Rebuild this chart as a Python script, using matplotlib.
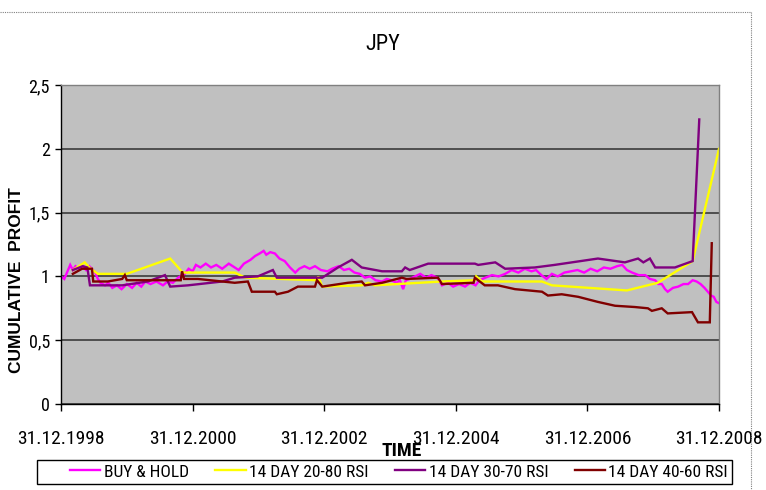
import matplotlib
matplotlib.use("Agg")
import matplotlib.pyplot as plt
import matplotlib.font_manager as fm
from matplotlib.font_manager import FontProperties
from matplotlib.lines import Line2D
from matplotlib.patches import Rectangle

# ---- data: decimal years and cumulative profit ----
bh_t = [1999.00, 1999.05, 1999.10, 1999.14, 1999.18, 1999.22, 1999.27, 1999.32, 1999.38, 1999.43,
        1999.47, 1999.52, 1999.56, 1999.60, 1999.67, 1999.72, 1999.78, 1999.85, 1999.92, 2000.00,
        2000.08, 2000.15, 2000.22, 2000.28, 2000.36, 2000.45, 2000.55, 2000.62, 2000.70, 2000.78,
        2000.88, 2000.94, 2001.00, 2001.05, 2001.12, 2001.20, 2001.28, 2001.36, 2001.45, 2001.55,
        2001.64, 2001.70, 2001.78, 2001.88, 2001.95, 2002.02, 2002.08, 2002.12, 2002.18, 2002.25,
        2002.32, 2002.40, 2002.48, 2002.56, 2002.62, 2002.70, 2002.78, 2002.86, 2002.95, 2003.05,
        2003.12, 2003.22, 2003.30, 2003.38, 2003.46, 2003.54, 2003.62, 2003.70, 2003.78, 2003.88,
        2003.95, 2004.02, 2004.10, 2004.15, 2004.20, 2004.24, 2004.30, 2004.38, 2004.46, 2004.55,
        2004.63, 2004.72, 2004.79, 2004.88, 2004.96, 2005.05, 2005.14, 2005.22, 2005.30, 2005.36,
        2005.45, 2005.55, 2005.65, 2005.75, 2005.85, 2005.95, 2006.05, 2006.15, 2006.22, 2006.30,
        2006.38, 2006.46, 2006.55, 2006.65, 2006.75, 2006.85, 2006.95, 2007.05, 2007.15, 2007.25,
        2007.35, 2007.45, 2007.53, 2007.60, 2007.68, 2007.78, 2007.88, 2007.95, 2008.03, 2008.08,
        2008.13, 2008.18, 2008.22, 2008.30, 2008.38, 2008.46, 2008.53, 2008.60, 2008.66, 2008.72,
        2008.78, 2008.83, 2008.88, 2008.92, 2008.96, 2009.00]
bh_v = [1.00, 0.98, 1.04, 1.09, 1.05, 1.08, 1.06, 1.09, 1.05, 1.08,
        1.06, 1.03, 0.98, 0.95, 0.93, 0.95, 0.91, 0.93, 0.90, 0.94,
        0.91, 0.95, 0.92, 0.96, 0.94, 0.96, 0.93, 0.96, 0.95, 0.99,
        1.02, 1.06, 1.04, 1.09, 1.07, 1.10, 1.07, 1.09, 1.06, 1.10,
        1.07, 1.05, 1.10, 1.13, 1.16, 1.18, 1.20, 1.17, 1.19, 1.18,
        1.14, 1.12, 1.07, 1.03, 1.06, 1.08, 1.06, 1.08, 1.05, 1.04,
        1.06, 1.08, 1.05, 1.06, 1.03, 1.02, 0.99, 1.00, 0.97, 0.96,
        0.98, 0.97, 0.95, 0.97, 0.90, 0.97, 0.98, 1.00, 1.02, 0.99,
        1.01, 0.99, 0.93, 0.95, 0.92, 0.94, 0.92, 0.95, 0.93, 0.97,
        0.99, 1.01, 1.00, 1.02, 1.05, 1.03, 1.06, 1.04, 1.05, 1.01,
        0.98, 1.02, 1.00, 1.03, 1.04, 1.05, 1.03, 1.06, 1.04, 1.07,
        1.06, 1.08, 1.09, 1.05, 1.03, 1.01, 1.01, 0.98, 0.97, 0.94,
        0.94, 0.90, 0.88, 0.91, 0.92, 0.94, 0.94, 0.97, 0.96, 0.94,
        0.91, 0.88, 0.85, 0.84, 0.80, 0.79]

rsi2080_t = [1999.18, 1999.36, 1999.43, 1999.56, 2000.00, 2000.66, 2000.85, 2001.64, 2001.80,
             2002.89, 2002.91, 2002.97, 2003.57, 2003.67, 2003.77, 2004.79, 2005.29, 2005.31,
             2005.40, 2006.31, 2006.46, 2007.60, 2008.07, 2008.60, 2009.00]
rsi2080_v = [1.05, 1.11, 1.07, 1.02, 1.02, 1.14, 1.03, 1.03, 0.99,
             0.97, 1.00, 0.92, 0.93, 0.95, 0.93, 0.96, 0.97, 1.00,
             0.96, 0.96, 0.93, 0.89, 0.95, 1.12, 2.00]

rsi3070_t = [1999.18, 1999.33, 1999.40, 1999.44, 1999.93, 2000.32, 2000.58, 2000.66, 2000.93,
             2001.45, 2001.64, 2001.99, 2002.22, 2002.28, 2002.97, 2003.21, 2003.42, 2003.57,
             2003.88, 2004.18, 2004.23, 2004.30, 2004.58, 2005.29, 2005.34, 2005.60, 2005.75,
             2006.20, 2006.50, 2007.16, 2007.57, 2007.77, 2007.85, 2007.95, 2008.03, 2008.33,
             2008.60, 2008.70]
rsi3070_v = [1.05, 1.08, 1.07, 0.93, 0.93, 0.96, 1.01, 0.92, 0.93,
             0.96, 0.99, 1.00, 1.05, 0.99, 0.99, 1.07, 1.13, 1.07,
             1.04, 1.04, 1.07, 1.05, 1.10, 1.10, 1.09, 1.11, 1.06,
             1.07, 1.09, 1.14, 1.11, 1.14, 1.11, 1.14, 1.07, 1.07,
             1.12, 2.23]

rsi4060_t = [1999.18, 1999.32, 1999.47, 1999.49, 1999.71, 1999.93, 1999.97, 2000.00, 2000.43,
             2000.82, 2000.84, 2000.87, 2001.08, 2001.45, 2001.64, 2001.84, 2001.90, 2002.25,
             2002.28, 2002.45, 2002.60, 2002.86, 2002.89, 2002.97, 2003.36, 2003.57, 2003.62,
             2003.88, 2004.18, 2004.25, 2004.73, 2004.79, 2005.27, 2005.29, 2005.44, 2005.64,
             2005.90, 2006.31, 2006.40, 2006.61, 2006.86, 2007.16, 2007.42, 2007.72, 2007.92,
             2007.98, 2008.13, 2008.22, 2008.59, 2008.68, 2008.86, 2008.89]
rsi4060_v = [1.02, 1.06, 1.06, 0.96, 0.96, 0.98, 1.01, 0.97, 0.97,
             0.97, 1.04, 0.98, 0.98, 0.96, 0.95, 0.96, 0.88, 0.88,
             0.86, 0.88, 0.92, 0.92, 0.97, 0.92, 0.95, 0.96, 0.93,
             0.95, 0.99, 0.98, 0.99, 0.94, 0.95, 0.99, 0.93, 0.93,
             0.90, 0.88, 0.85, 0.86, 0.84, 0.80, 0.77, 0.76, 0.75,
             0.73, 0.75, 0.71, 0.72, 0.64, 0.64, 1.26]

x_ticks = [1999, 2001, 2003, 2005, 2007, 2009]
x_labels = ["31.12.1998", "31.12.2000", "31.12.2002", "31.12.2004", "31.12.2006", "31.12.2008"]
y_ticks = [0, 0.5, 1, 1.5, 2, 2.5]
y_labels = ["0", "0,5", "1", "1,5", "2", "2,5"]

series = [
    ("BUY & HOLD", bh_t, bh_v, "#FF00FF"),
    ("14 DAY 20-80 RSI", rsi2080_t, rsi2080_v, "#FFFF00"),
    ("14 DAY 30-70 RSI", rsi3070_t, rsi3070_v, "#800080"),
    ("14 DAY 40-60 RSI", rsi4060_t, rsi4060_v, "#800000"),
]

plt.rcParams["font.family"] = ["Liberation Sans", "DejaVu Sans"]


def narrow_font(bold=False):
    """Return (FontProperties, size factor) for a narrow sans face if one is installed."""
    want = "bold" if bold else "normal"
    preferred = ["Liberation Sans Narrow", "Arial Narrow", "Roboto Condensed",
                 "Open Sans Condensed", "DejaVu Sans Condensed", "Noto Sans Condensed"]
    entries = fm.fontManager.ttflist
    for name in preferred:
        for f in entries:
            w = f.weight if isinstance(f.weight, int) else (700 if f.weight == "bold" else 400)
            if f.name == name and f.style == "normal" and ((w >= 600) == bold):
                return FontProperties(fname=f.fname), 1.0
    for f in entries:
        w = f.weight if isinstance(f.weight, int) else (700 if f.weight == "bold" else 400)
        if (str(f.stretch) in ("condensed", "semi-condensed")
                and f.style == "normal" and ((w >= 600) == bold)
                and "Mono" not in f.name and "Serif" not in f.name):
            return FontProperties(fname=f.fname), 1.0
    return FontProperties(family=["Liberation Sans", "DejaVu Sans"], weight=want), 0.84


def fp(size, bold=False):
    base, k = narrow_font(bold)
    p = base.copy()
    p.set_size(size * k)
    return p


W, H = 766, 490
fig = plt.figure(figsize=(W / 100, H / 100), dpi=100)
fig.patch.set_facecolor("white")

ax = fig.add_axes([61 / W, 1 - 404 / H, (719 - 61) / W, (404 - 85) / H])
ax.set_facecolor("#C0C0C0")

for name, t, v, c in series:
    ax.plot(t, v, color=c, lw=1.7, label=name, solid_joinstyle="miter")

ax.set_xlim(1999, 2009)
ax.set_ylim(0, 2.5)
ax.set_xticks(x_ticks)
ax.set_xticklabels(x_labels, fontproperties=fp(14))
ax.set_yticks(y_ticks)
ax.set_yticklabels(y_labels, fontproperties=fp(13))
ax.yaxis.grid(True, color="#303030", lw=1.1)
ax.set_axisbelow(True)
ax.tick_params(axis="x", direction="out", length=5, width=1, pad=14, colors="black")
ax.tick_params(axis="y", direction="out", length=4, width=1, pad=4, colors="black")

for side in ("left", "bottom"):
    ax.spines[side].set_color("black")
    ax.spines[side].set_linewidth(1.0)
for side in ("top", "right"):
    ax.spines[side].set_color("#808080")
    ax.spines[side].set_linewidth(1.0)

fig.text(383 / W, 1 - 44 / H, "JPY", ha="center", va="center", fontproperties=fp(16))
fig.text(17 / W, 1 - 280 / H, "CUMULATIVE  PROFIT", rotation=90, ha="center", va="center",
         fontsize=12.5, fontweight="bold")
fig.text(402 / W, 1 - 451 / H, "TIME", ha="center", va="center", fontproperties=fp(14, True))

# legend frame
fig.patches.append(Rectangle((37 / W, 1 - 484 / H), (732 - 37) / W, (484 - 460) / H,
                             transform=fig.transFigure, facecolor="white",
                             edgecolor="black", lw=1.0))
handles = [Line2D([], [], color=c, lw=1.7) for _, _, _, c in series]
labels = [n for n, _, _, _ in series]
fig.legend(handles, labels, loc="center", mode="expand",
           bbox_to_anchor=(70 / W, 1 - 484 / H, (728 - 70) / W, (484 - 460) / H),
           ncol=4, frameon=False, prop=fp(12.5),
           handlelength=1.75, handletextpad=0.2, columnspacing=1.0,
           borderpad=0.0, borderaxespad=0.0)

# dotted outer chart border
fig.add_artist(Line2D([0, 751 / W], [1 - 12 / H, 1 - 12 / H], transform=fig.transFigure,
                      color="#808080", lw=0.8, ls=(0, (1, 1))))
fig.add_artist(Line2D([751 / W, 751 / W], [1 - 12 / H, 0], transform=fig.transFigure,
                      color="#808080", lw=0.8, ls=(0, (1, 1))))

fig.savefig("out.png", dpi=100)
